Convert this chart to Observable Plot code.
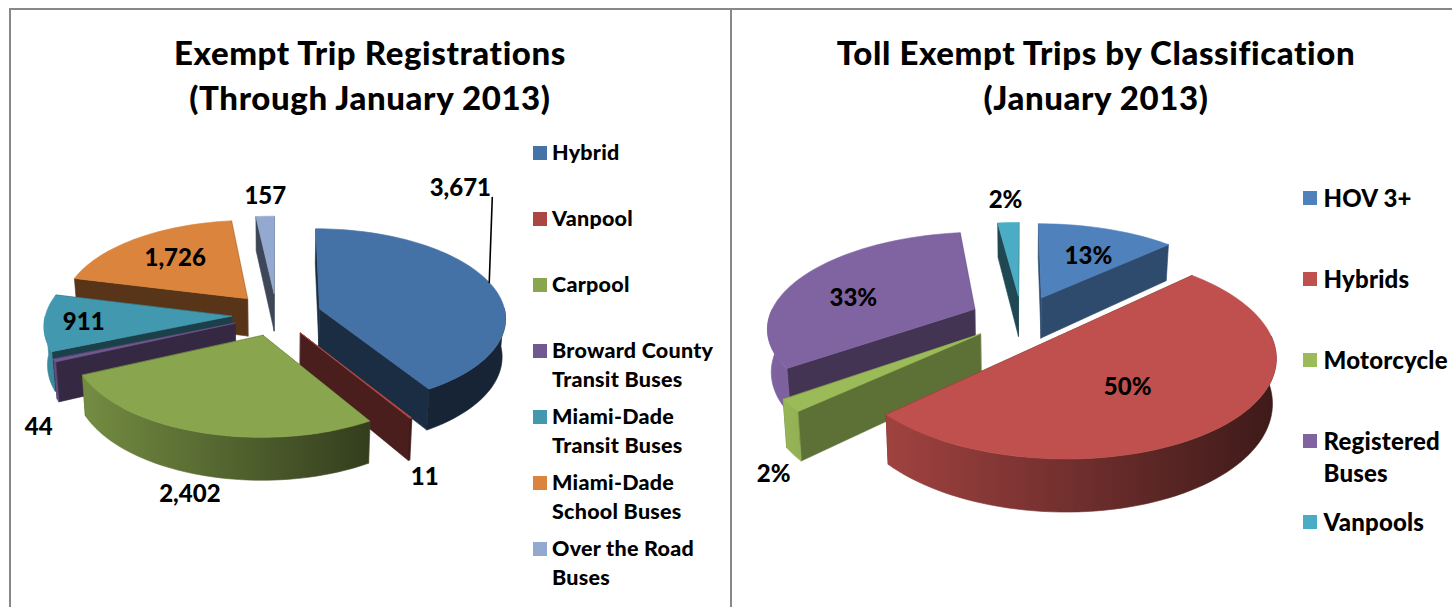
<!DOCTYPE html>
<html>
<head>
<meta charset="utf-8">
<script src="https://cdn.jsdelivr.net/npm/d3@7"></script>
<script src="https://cdn.jsdelivr.net/npm/@observablehq/plot@0.6"></script>
<style>
  html,body{margin:0;padding:0;background:#fff;}
  #page{position:relative;width:1452px;height:607px;overflow:hidden;font-family:Lato,sans-serif;font-weight:900;color:#000;}
  .panel{position:absolute;top:8px;height:610px;box-sizing:border-box;border-top:2.5px solid #888;}
  .title{position:absolute;text-align:center;font-size:33px;line-height:45px;white-space:pre;transform:translateX(-50%);letter-spacing:.6px;}
  .chart{position:absolute;}
  .chart svg{display:block;overflow:visible;background:transparent;}
  .legend{position:absolute;}
  .row{position:relative;white-space:pre-line;}
  .swatch{position:absolute;width:14px;height:14px;}
</style>
</head>
<body>
<div id="page"></div>
<script>
// ---- left chart ----
const regCategories = ["Hybrid","Vanpool","Carpool","Broward County\nTransit Buses","Miami-Dade\nTransit Buses","Miami-Dade\nSchool Buses","Over the Road\nBuses"];
const regValues = [3671,11,2402,44,911,1726,157];
const regLabels = ["3,671","11","2,402","44","911","1,726","157"];
const regColors = ["#4572a7","#aa4643","#89a54e","#71588f","#4198af","#db843d","#93a9cf"];
const regTopColors = ["#4471a6","#c0504d","#89a54e","#71588f","#4198af","#db843d","#93a9cf"];
// ---- right chart ----
const tripCategories = ["HOV 3+","Hybrids","Motorcycle","Registered\nBuses","Vanpools"];
const tripValues = [13,50,2,33,2];
const tripLabels = ["13%","50%","2%","33%","2%"];
const tripColors = ["#4f81bd","#c0504d","#9bbb59","#8064a2","#4bacc6"];

// ---- layout (view of the tilted pie, label placement in polar terms about labelFrame) ----
const regView = {id:"reg",cx:276,cy:314,R:186,k:.475,p:.0005,e:45,d:38,left:50,right:400,light:.9,
  frame:[10,525,130,607], walls:[.4,.38,.48,.46,.42,.4,.42],
  labelFrame:{cx:270,cy:314,k:.475,p:.0005},
  labelAngle:[35.6,155.8,192,224.2,264.9,321,358.8], labelRadius:[376,321,326,297,186,161,284],
  leader:{angle:42,radius:378,slice:0,rimAngle:72}};
const tripView = {id:"trip",cx:1021,cy:318,R:206,k:.455,p:.00086,e:52,d:42,left:775,right:1275,light:.98,
  frame:[732,1295,130,607], walls:[.58,.42,.6,.52,.42],
  labelFrame:{cx:1006,cy:320,k:.447,p:.00086},
  labelAngle:[29.8,141,214,287.8,359.8], labelRadius:[188,170.6,321,168,349]};

const rad = a => a*Math.PI/180;
function project(v,X,Y,Z=0){
  const s = 1/(1-v.p*Y);
  const x = v.cx+X*s, y = v.cy+v.k*Y*s;
  return Z ? {x:v.cx+(x-v.cx)*.985, y:y+Z*s} : {x,y};
}
function polar(v,deg,r,mid=null){
  const ox = mid===null?0:v.e*Math.sin(mid), oy = mid===null?0:-v.e*Math.cos(mid);
  return [ox+r*Math.sin(rad(deg)), oy-r*Math.cos(rad(deg))];
}
function wedge(v,values,colors){
  const arcs = d3.pie().sort(null)(values);
  return arcs.map((a,i)=>{
    const a0=a.startAngle*180/Math.PI, a1=a.endAngle*180/Math.PI, mid=(a.startAngle+a.endAngle)/2;
    const apexXY=polar(v,0,0,mid);
    const at=(deg,Z=0)=>{const [X,Y]=polar(v,deg,v.R,mid);return project(v,X,Y,Z);};
    const apex=(Z=0)=>project(v,apexXY[0],apexXY[1],Z);
    const sweep=(from,to)=>{const n=Math.max(2,Math.ceil((to-from)/2));return d3.range(n+1).map(j=>from+(to-from)*j/n);};
    const top=[apex(),...sweep(a0,a1).map(t=>at(t))];
    const wall=t=>[apex(),at(t),at(t,v.d),apex(v.d)];
    const f0=Math.max(a0,90), f1=Math.min(a1,270);
    const outer=f1>f0?[...sweep(f0,f1).map(t=>at(t)),...sweep(f0,f1).reverse().map(t=>at(t,v.d))]:null;
    return {i,mid,color:colors[i],top,walls:[wall(a0),wall(a1)],outer};
  }).sort((p,q)=>(-Math.cos(p.mid))-(-Math.cos(q.mid)));
}
const shade=(c,f)=>{const r=d3.rgb(c);return d3.rgb(r.r*f,r.g*f,r.b*f).formatHex();};
const poly=(pts,fill)=>Plot.line(pts,{x:"x",y:"y",curve:"linear-closed",fill,stroke:fill,strokeWidth:.6});

function pieChart(v,values,colors,labels){
  const [L,R,T,B]=v.frame;
  const w=R-L,h=B-T;
  const slices=wedge(v,values,colors);
  const defs=()=>{
    const g=d3.create("svg:defs");
    colors.forEach((c,i)=>{
      const lg=g.append("linearGradient").attr("id",`${v.id}-g${i}`).attr("gradientUnits","userSpaceOnUse")
        .attr("x1",v.left-L).attr("x2",v.right-L).attr("y1",0).attr("y2",0);
      lg.append("stop").attr("offset",0).attr("stop-color",shade(c,v.light));
      lg.append("stop").attr("offset",1).attr("stop-color",shade(c,.32));
    });
    return g.node();
  };
  const marks=[defs];
  for(const s of slices){
    const wallFill=shade(s.color,v.walls[s.i]);
    s.walls.forEach(p=>marks.push(poly(p,wallFill)));
    if(s.outer) marks.push(poly(s.outer,`url(#${v.id}-g${s.i})`));
    marks.push(poly(s.top,s.color));
  }
  const arcs=d3.pie().sort(null)(values);
  const lf={...v,...v.labelFrame};
  const labelRows=labels.map((t,i)=>{
    const [X,Y]=polar(v,v.labelAngle[i],v.labelRadius[i]);
    return {t,...project(lf,X,Y)};
  });
  if(v.leader){
    const a=arcs[v.leader.slice],m=(a.startAngle+a.endAngle)/2;
    const [X0,Y0]=polar(v,v.leader.angle,v.leader.radius);
    const [X1,Y1]=polar(v,v.leader.rimAngle,v.R,m);
    marks.push(Plot.line([project(lf,X0,Y0),project(v,X1,Y1)],{x:"x",y:"y",stroke:"#000",strokeWidth:1.6}));
  }
  marks.push(Plot.text(labelRows,{x:"x",y:"y",text:"t",fill:"#000",fontFamily:"Lato, sans-serif",fontWeight:900,fontSize:24,textAnchor:"middle",lineAnchor:"middle"}));
  return Plot.plot({width:w,height:h,margin:0,x:{domain:[L,R],axis:null},y:{domain:[B,T],axis:null},marks});
}

const page=document.getElementById("page");
function el(tag,cls,style,text){const e=document.createElement(tag);e.className=cls;Object.assign(e.style,style);if(text!=null)e.textContent=text;page.appendChild(e);return e;}
el("div","panel",{left:"9px",width:"721px",borderLeft:"2.5px solid #888"});
el("div","panel",{left:"730px",width:"722px",borderLeft:"2.5px solid #888"});

el("div","title",{left:"370px",top:"30px"},"Exempt Trip Registrations\n(Through January 2013)");
el("div","title",{left:"1096px",top:"30px"},"Toll Exempt Trips by Classification\n(January 2013)");

function place(chart,v){const c=el("div","chart",{left:v.frame[0]+"px",top:v.frame[2]+"px"});c.appendChild(chart);}
place(pieChart(regView,regValues,regTopColors,regLabels),regView);
place(pieChart(tripView,tripValues,tripColors,tripLabels),tripView);

function legend(cats,colors,o){
  const box=el("div","legend",{left:o.left+"px",top:o.top+"px",fontSize:o.font+"px",lineHeight:o.line+"px",letterSpacing:o.track+"px"});
  cats.forEach((c,i)=>{
    const r=document.createElement("div");r.className="row";r.style.height=o.step+"px";r.style.paddingLeft=o.pad+"px";r.textContent=c;
    const s=document.createElement("span");s.className="swatch";s.style.background=colors[i];s.style.left="0";s.style.top=(o.line/2-7)+"px";
    r.appendChild(s);box.appendChild(r);
  });
}
legend(regCategories,regColors,{left:533,top:138,font:21.5,line:29,step:66,pad:19,track:.25});
legend(tripCategories,tripColors,{left:1303,top:182,font:24,line:32,step:81,pad:20.5,track:.2});
</script>
</body>
</html>
